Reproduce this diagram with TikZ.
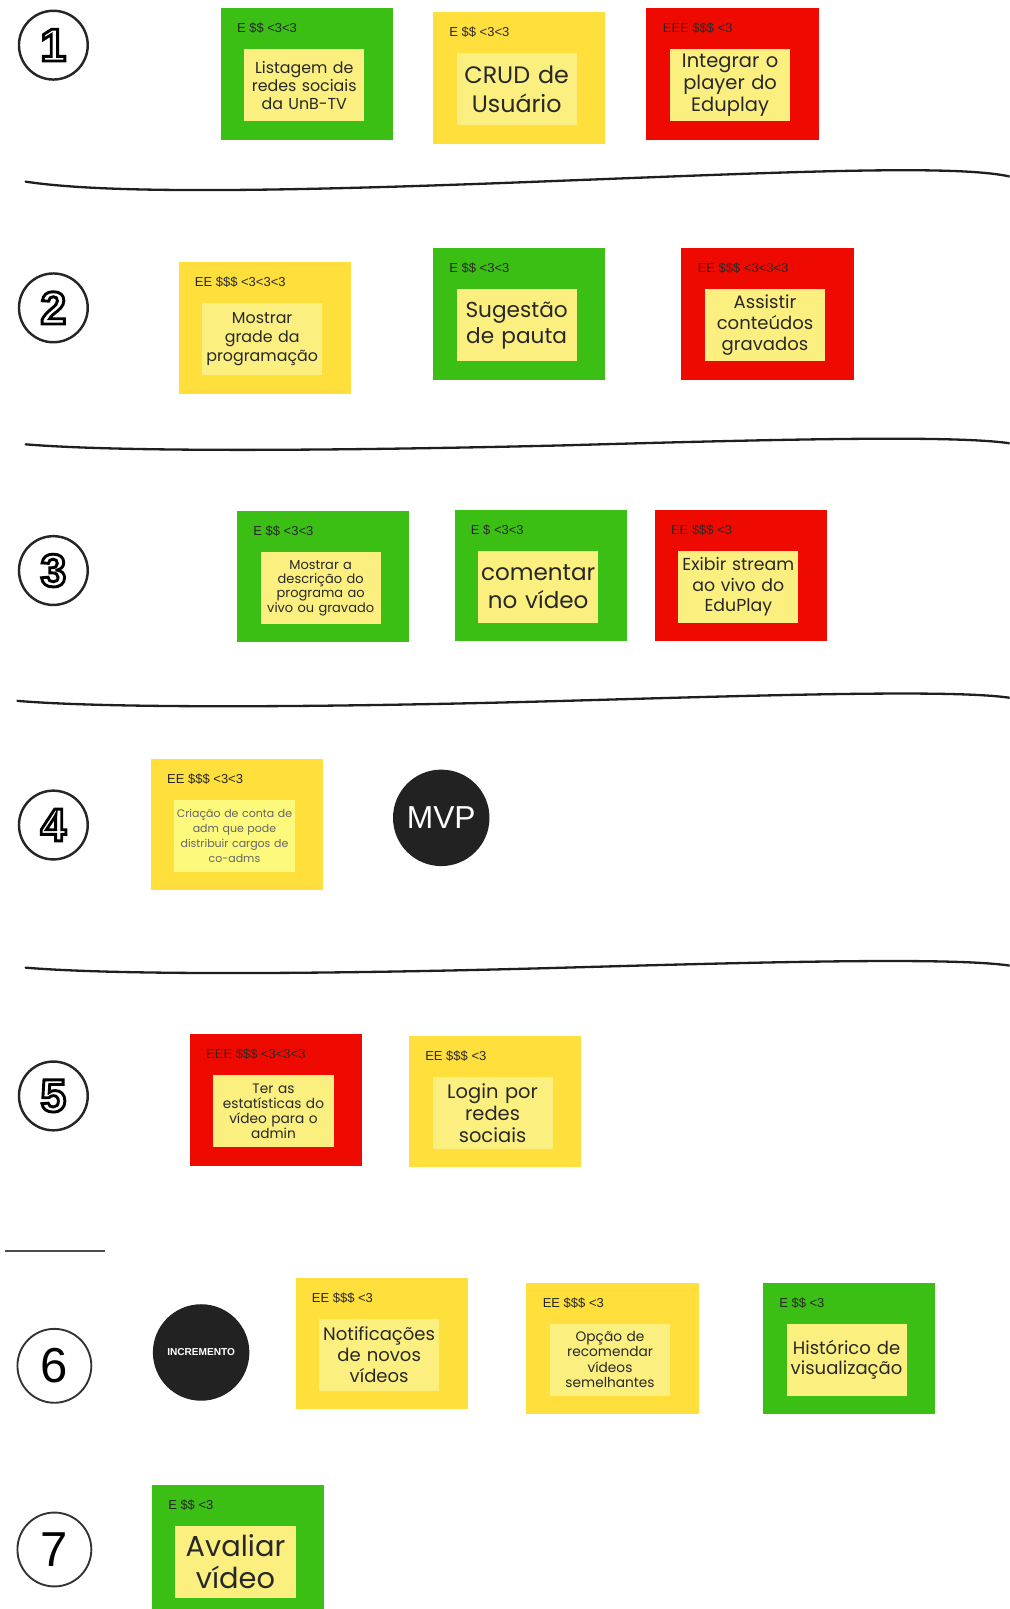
\documentclass[tikz,border=0pt]{standalone}
\usepackage{fontspec}
\setmainfont{Poppins}
\newfontfamily\arialfont{Liberation Sans}
\usetikzlibrary{calc}
\definecolor{postitgreen}{RGB}{59,191,20}
\definecolor{postityellow}{RGB}{255,223,60}
\definecolor{postitred}{RGB}{238,10,0}
\definecolor{paleyellow}{RGB}{251,239,127}
\definecolor{lemon}{RGB}{252,249,125}
\definecolor{inkgray}{RGB}{40,40,40}
\definecolor{mvpblack}{RGB}{34,34,34}
\tikzset{
  nota/.style={
    rectangle,
    minimum width=4.2cm,
    minimum height=3.2cm,
    inner sep=0pt
  },
  dentro/.style={
    rectangle,
    fill=paleyellow,
    minimum width=2.925cm,
    minimum height=1.75cm,
    text width=2.9cm,
    align=center,
    inner sep=0pt,
    text=inkgray
  },
  custo/.style={
    anchor=west,
    inner sep=0pt,
    text=inkgray,
    font=\arialfont\fontsize{9}{9}\selectfont
  },
  numero/.style={
    circle,
    draw=black!85,
    line width=1.7pt,
    minimum size=1.675cm,
    inner sep=0pt,
    font=\arialfont\bfseries\fontsize{32}{32}\selectfont
  },
  numplano/.style={
    circle,
    draw=black!80,
    line width=1.3pt,
    minimum size=1.8cm,
    inner sep=0pt,
    font=\arialfont\fontsize{34}{34}\selectfont
  },
  bola/.style={
    circle,
    fill=mvpblack,
    minimum size=2.35cm,
    inner sep=0pt,
    text=white
  },
  divisor/.style={
    line width=1.6pt,
    black!88,
    line cap=round
  }
}
% name, center, colour, cost, inner options, text
\newcommand{\postit}[6]{%
  \node[nota, fill=#3] (#1) at (#2) {};
  \node[custo] (#1c) at ($(#1.north west)+(16,20)$) {#4};
  \node[dentro, #5] (#1t) at ($(#1.center)+(-2.5,11)$) {#6};
}
% white digit with a black outline
\newcommand{\contorno}[1]{\special{pdf:literal direct q 2 Tr 2 w 1 g 0 G}#1\special{pdf:literal direct Q}}

\begin{document}
\begin{tikzpicture}[x=0.025cm, y=-0.025cm]
\useasboundingbox (0,0) rectangle (984,1568);
\clip (0,0) rectangle (984,1568);

% numbers
\node[numero] (n1) at (52,44) {\contorno{1}};
\node[numero] (n2) at (52,300) {\contorno{2}};
\node[numero] (n3) at (52,556) {\contorno{3}};
\node[numero] (n4) at (52,804) {\contorno{4}};
\node[numero] (n5) at (52,1068) {\contorno{5}};
\node[numplano] (n6) at (53,1331) {6};
\node[numplano] (n7) at (53,1510) {7};

% sprint 1
\postit{a1}{299,72}{postitgreen}{E \$\$ <3<3}{font=\fontsize{11}{12.4}\selectfont}{Listagem de\\redes sociais\\da UnB-TV}
\postit{a2}{506,76}{postityellow}{E \$\$ <3<3}{font=\fontsize{16.5}{20.5}\selectfont}{CRUD de\\Usuário}
\postit{a3}{714,72}{postitred}{EEE \$\$\$ <3}{font=\fontsize{13.5}{15.3}\selectfont}{Integrar o\\player do\\Eduplay}
\draw[divisor] (25,177) .. controls (110,190) and (300,186) .. (550,176) .. controls (760,168) and (930,160) .. (984,172);

% sprint 2
\postit{b1}{258,319.5}{postityellow}{EE \$\$\$ <3<3<3}{font=\fontsize{11}{13.2}\selectfont}{Mostrar\\grade da\\programação}
\postit{b2}{506,306}{postitgreen}{E \$\$ <3<3}{font=\fontsize{15}{17.8}\selectfont}{Sugestão\\de pauta}
\postit{b3}{748,306}{postitred}{EE \$\$\$ <3<3<3}{font=\fontsize{12.5}{14.6}\selectfont}{Assistir\\conteúdos\\gravados}
\draw[divisor] (25,433) .. controls (110,440) and (300,440) .. (550,434) .. controls (760,428) and (930,424) .. (984,432);

% sprint 3
\postit{c1}{315,562}{postitgreen}{E \$\$ <3<3}{font=\fontsize{9}{10}\selectfont}{Mostrar a\\descrição do\\programa ao\\vivo ou gravado}
\postit{c2}{527,561}{postitgreen}{E \$ <3<3}{font=\fontsize{16}{19.2}\selectfont}{comentar\\no vídeo}
\postit{c3}{722,561}{postitred}{EE \$\$\$ <3}{font=\fontsize{12}{14.2}\selectfont}{Exibir stream\\ao vivo do\\EduPlay}
\draw[divisor] (17,683) .. controls (100,690) and (300,690) .. (550,683) .. controls (760,677) and (930,672) .. (984,680);

% sprint 4
\postit{d1}{231,803.5}{postityellow}{EE \$\$\$ <3<3}{fill=lemon, text=black!60, font=\fontsize{7.6}{10.2}\selectfont}{Criação de conta de\\adm que pode\\distribuir cargos de\\co-adms}
\node[bola, font=\arialfont\fontsize{22}{22}\selectfont] (mvp) at (430,797) {MVP};
\draw[divisor] (25,943) .. controls (110,950) and (300,950) .. (550,943) .. controls (760,937) and (930,933) .. (984,941);

% sprint 5
\postit{e1}{269,1072}{postitred}{EEE \$\$\$ <3<3<3}{font=\fontsize{9.5}{10.5}\selectfont}{Ter as\\estatísticas do\\vídeo para o\\admin}
\postit{e2}{482.5,1073.5}{postityellow}{EE \$\$\$ <3}{font=\fontsize{13.5}{15.3}\selectfont}{Login por\\redes\\sociais}
\draw[line width=1.2pt, black!70] (5,1219) -- (102,1219);

% sprint 6
\node[bola, font=\arialfont\bfseries\fontsize{7}{7}\selectfont] (inc) at (196,1318) {INCREMENTO};
\postit{f1}{372,1309.5}{postityellow}{EE \$\$\$ <3}{font=\fontsize{12.5}{14.6}\selectfont}{Notificações\\de novos\\vídeos}
\postit{f2}{597,1314}{postityellow}{EE \$\$\$ <3}{font=\fontsize{9.5}{10.7}\selectfont}{Opção de\\recomendar\\vídeos\\semelhantes}
\postit{f3}{827.5,1314}{postitgreen}{E \$\$ <3}{font=\fontsize{12.5}{14.2}\selectfont}{Histórico de\\visualização}

% sprint 7
\postit{g1}{232,1511}{postitgreen}{E \$\$ <3}{font=\fontsize{20}{22}\selectfont}{Avaliar\\vídeo}
\end{tikzpicture}
\end{document}
